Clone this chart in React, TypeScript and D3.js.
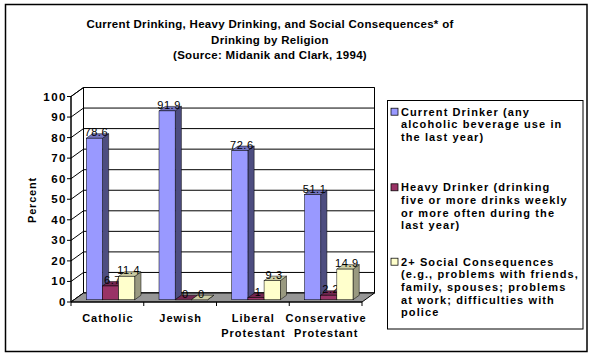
import React from "react";
import * as d3 from "d3";

const categories = [["Catholic"], ["Jewish"], ["Liberal", "Protestant"], ["Conservative", "Protestant"]];
const seriesNames = ["Current Drinker", "Heavy Drinker", "2+ Social Consequences"];
const currentDrinker = [78.6, 91.9, 72.6, 51.1];
const heavyDrinker = [6.7, 0, 1, 2.2];
const socialConsequences = [11.4, 0, 9.3, 14.9];
const valueLabels = [
  ["78.6", "91.9", "72.6", "51.1"],
  ["6.7", "0", "1", "2.2"],
  ["11.4", "0", "9.3", "14.9"],
];
const yTicks = [0, 10, 20, 30, 40, 50, 60, 70, 80, 90, 100];
const titleLines = [
  "Current Drinking, Heavy Drinking, and Social Consequences* of",
  "Drinking by Religion",
  "(Source:  Midanik and Clark, 1994)",
];
const legendLines = [
  ["Current Drinker (any", "alcoholic beverage use in", "the last year)"],
  ["Heavy Drinker (drinking", "five or more drinks weekly", "or more often during the", "last year)"],
  ["2+ Social Consequences", "(e.g., problems with friends,", "family, spouses; problems", "at work; difficulties with", "police"],
];

const colors = [
  { front: "#9999FF", side: "#4D4D80", top: "#7373BF" },
  { front: "#993366", side: "#4D1A33", top: "#732650" },
  { front: "#FFFFCC", side: "#999980", top: "#CCCCA3" },
];

export default function App() {
  const W = 593, H = 357;
  const x0 = 71, x1 = 362;
  const y0 = 302, y100 = 96.5;
  const DX = 12.5, DY = -9;
  const d0 = 0.25, d1 = 0.75;
  const font = "Arial, 'Liberation Sans', sans-serif";

  const y = d3.scaleLinear().domain([0, 100]).range([y0, y100]);
  const xCat = d3.scaleBand().domain(d3.range(categories.length).map(String)).range([x0, x1]).paddingInner(0).paddingOuter(0);
  const catW = xCat.bandwidth();
  const barW = catW / 4.5;
  const gap = (catW - 3 * barW) / 2;
  const series = [currentDrinker, heavyDrinker, socialConsequences];

  const pts = (a: number[][]) => a.map((p) => p.join(",")).join(" ");

  const bars: React.ReactNode[] = [];
  categories.forEach((_, ci) => {
    series.forEach((vals, si) => {
      const v = vals[ci];
      const xf = (xCat(String(ci)) as number) + gap + si * barW + d0 * DX;
      const yB = y(0) + d0 * DY;
      const yT = y(v) + d0 * DY;
      const ddx = (d1 - d0) * DX, ddy = (d1 - d0) * DY;
      const c = colors[si];
      bars.push(
        <g key={`b${ci}-${si}`}>
          <polygon points={pts([[xf + barW, yT], [xf + barW + ddx, yT + ddy], [xf + barW + ddx, yB + ddy], [xf + barW, yB]])} fill={c.side} stroke="#000" strokeWidth={0.5} />
          <polygon points={pts([[xf, yT], [xf + barW, yT], [xf + barW + ddx, yT + ddy], [xf + ddx, yT + ddy]])} fill={c.top} stroke="#000" strokeWidth={0.5} />
          {v > 0 && <rect x={xf} y={yT} width={barW} height={yB - yT} fill={c.front} stroke="#000" strokeWidth={0.5} />}
          <text x={xf + barW / 2 + 2} y={yT + ddy + 2.5} textAnchor="middle" fontFamily={font} fontSize={11} letterSpacing={0.6} fill="#000">{valueLabels[si][ci]}</text>
        </g>
      );
    });
  });

  return (
    <svg width={W} height={H} style={{ position: "absolute", left: 0, top: 0 }} xmlns="http://www.w3.org/2000/svg">
      <rect x={0} y={0} width={W} height={H} fill="#fff" />
      <rect x={5.5} y={4.5} width={581.5} height={347} fill="none" stroke="#000" strokeWidth={1.5} />
      {titleLines.map((t, i) => (
        <text key={t} x={270} y={28 + i * 15.5} textAnchor="middle" fontFamily={font} fontWeight="bold" fontSize={11.5} letterSpacing={0.3} fill="#000">{t}</text>
      ))}
      {/* walls */}
      <polygon points={pts([[x0, y100], [x0 + DX, y100 + DY], [x0 + DX, y0 + DY], [x0, y0]])} fill="#fff" stroke="#000" strokeWidth={1} />
      <polygon points={pts([[x0 + DX, y100 + DY], [x1 + DX, y100 + DY], [x1 + DX, y0 + DY], [x0 + DX, y0 + DY]])} fill="#fff" stroke="#000" strokeWidth={1} />
      {yTicks.map((t) => (
        <g key={`g${t}`}>
          <line x1={x0} y1={y(t)} x2={x0 + DX} y2={y(t) + DY} stroke="#000" strokeWidth={1} />
          <line x1={x0 + DX} y1={y(t) + DY} x2={x1 + DX} y2={y(t) + DY} stroke="#000" strokeWidth={1} />
        </g>
      ))}
      {/* floor */}
      <polygon points={pts([[x0, y0], [x1, y0], [x1 + DX, y0 + DY], [x0 + DX, y0 + DY]])} fill="#969696" stroke="#000" strokeWidth={1} />
      {bars}
      {/* axes */}
      <line x1={x0} y1={y100} x2={x0} y2={y0} stroke="#000" strokeWidth={1} />
      <line x1={x0} y1={y0} x2={x1} y2={y0} stroke="#000" strokeWidth={1} />
      {yTicks.map((t) => (
        <g key={`t${t}`}>
          <line x1={x0 - 4} y1={y(t)} x2={x0} y2={y(t)} stroke="#000" strokeWidth={1} />
          <text x={x0 - 4} y={y(t) + 4} textAnchor="end" fontFamily={font} fontWeight="bold" fontSize={11.5} letterSpacing={1.5} fill="#000">{t}</text>
        </g>
      ))}
      {d3.range(categories.length + 1).map((i) => (
        <line key={`ct${i}`} x1={x0 + i * catW} y1={y0} x2={x0 + i * catW} y2={y0 + 4} stroke="#000" strokeWidth={1} />
      ))}
      {categories.map((lines, i) => (
        <text key={`c${i}`} textAnchor="middle" fontFamily={font} fontWeight="bold" fontSize={11} letterSpacing={1} fill="#000">
          {lines.map((l, j) => (
            <tspan key={l + j} x={(xCat(String(i)) as number) + catW / 2 + 0.5} y={322 + j * 14.5}>{l}</tspan>
          ))}
        </text>
      ))}
      <text transform="translate(36,200) rotate(-90)" textAnchor="middle" fontFamily={font} fontWeight="bold" fontSize={11} letterSpacing={0.8} fill="#000">Percent</text>
      {/* legend */}
      <rect x={387.5} y={100.5} width={195.5} height={228.5} fill="#fff" stroke="#000" strokeWidth={1} />
      {legendLines.map((lines, si) => {
        const top = [111.7, 187.3, 261.7][si];
        return (
          <g key={seriesNames[si]}>
            <rect x={391} y={top - 3.5} width={7} height={7} fill={colors[si].front} stroke="#000" strokeWidth={0.75} />
            {lines.map((l, j) => (
              <text key={l} x={401} y={top + 4 + j * 12.6} fontFamily={font} fontWeight="bold" fontSize={11} letterSpacing={1.1} fill="#000">{l}</text>
            ))}
          </g>
        );
      })}
    </svg>
  );
}
